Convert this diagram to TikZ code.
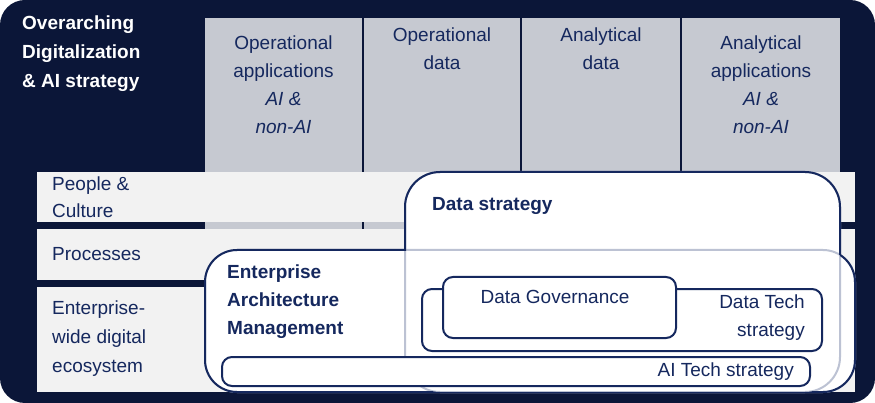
\documentclass[tikz,border=0pt]{standalone}
\usepackage{fontspec}
\setmainfont{Liberation Sans}
\begin{document}
\definecolor{navy}{HTML}{0B1638}
\definecolor{tnavy}{HTML}{15285E}
\definecolor{colg}{HTML}{C6C9D1}
\definecolor{rowg}{HTML}{F2F2F2}
\definecolor{faded}{HTML}{BCC2D3}
\begin{tikzpicture}[x=1pt,y=-1pt,
  txt/.style={text=tnavy,font=\fontsize{19}{28}\selectfont,inner sep=0pt},
  bold/.style={txt,font=\fontsize{19}{28}\selectfont\bfseries},
  col/.style={fill=colg,draw=none},
  row/.style={fill=rowg,draw=none},
  box/.style={draw=tnavy,line width=2pt,rounded corners=10pt}]
\useasboundingbox (0,0) rectangle (875,403);
\fill[navy,rounded corners=25pt] (0,0) rectangle (875,403);
% columns
\fill[col] (205,18) rectangle (362,392);
\fill[col] (364,18) rectangle (520,392);
\fill[col] (522,18) rectangle (680,392);
\fill[col] (682,18) rectangle (840,392);
\node[txt,align=center] (c1) at (283.5,85) {Operational\\applications\\\textit{AI \&}\\\textit{non-AI}};
\node[txt,align=center,anchor=north] (c2) at (442,28) {Operational\\data};
\node[txt,align=center,anchor=north] (c3) at (601,28) {Analytical\\data};
\node[txt,align=center] (c4) at (761,85) {Analytical\\applications\\\textit{AI \&}\\\textit{non-AI}};
\node[text=white,font=\fontsize{19}{29}\selectfont\bfseries,align=left,anchor=north west,inner sep=0pt] (hd) at (22,16) {Overarching\\Digitalization\\\& AI strategy};
% rows
\fill[row] (37,172) rectangle (855,222);
\fill[row] (37,229) rectangle (855,280);
\fill[row] (37,287) rectangle (855,392);
\node[txt,align=left,anchor=west,font=\fontsize{19}{27}\selectfont] (r1) at (52,197) {People \&\\Culture};
\node[txt,anchor=west] (r2) at (52,254) {Processes};
\node[txt,align=left,anchor=west,font=\fontsize{19}{29}\selectfont] (r3) at (52,339) {Enterprise-\\wide digital\\ecosystem};
% big boxes
\def\eam{(205,250) rectangle (855,392)}
\def\ds{(405,172) rectangle (840,392)}
\fill[white,rounded corners=32pt] \eam;
\fill[white,rounded corners=35pt] \ds;
\draw[faded,line width=2pt,rounded corners=32pt] \eam;
\draw[faded,line width=2pt,rounded corners=35pt] \ds;
\begin{scope}[even odd rule,rounded corners=35pt]
\clip (-10,-10) rectangle (885,413) (405,172) rectangle (840,392);
\draw[tnavy,line width=2pt,rounded corners=32pt] \eam;
\end{scope}
\begin{scope}[even odd rule,rounded corners=32pt]
\clip (-10,-10) rectangle (885,413) (204,251) rectangle (856,393);
\draw[tnavy,line width=2pt,rounded corners=35pt] \ds;
\end{scope}
\node[bold,anchor=west] (dst) at (432,206) {Data strategy};
\node[bold,align=left,anchor=north west] (eamt) at (227,265) {Enterprise\\Architecture\\Management};
% inner boxes
\draw[box,fill=white] (422,289) rectangle (822,351);
\node[txt,align=right,anchor=north east] (dtt) at (805,295) {Data Tech\\strategy};
\draw[box,fill=white] (443,277) rectangle (676,338);
\node[txt,anchor=north] (dgt) at (555,290) {Data Governance};
\draw[box,fill=white] (222,357) rectangle (810,386);
\node[txt,anchor=east] (ait) at (794,372) {AI Tech strategy};
\end{tikzpicture}
\end{document}
